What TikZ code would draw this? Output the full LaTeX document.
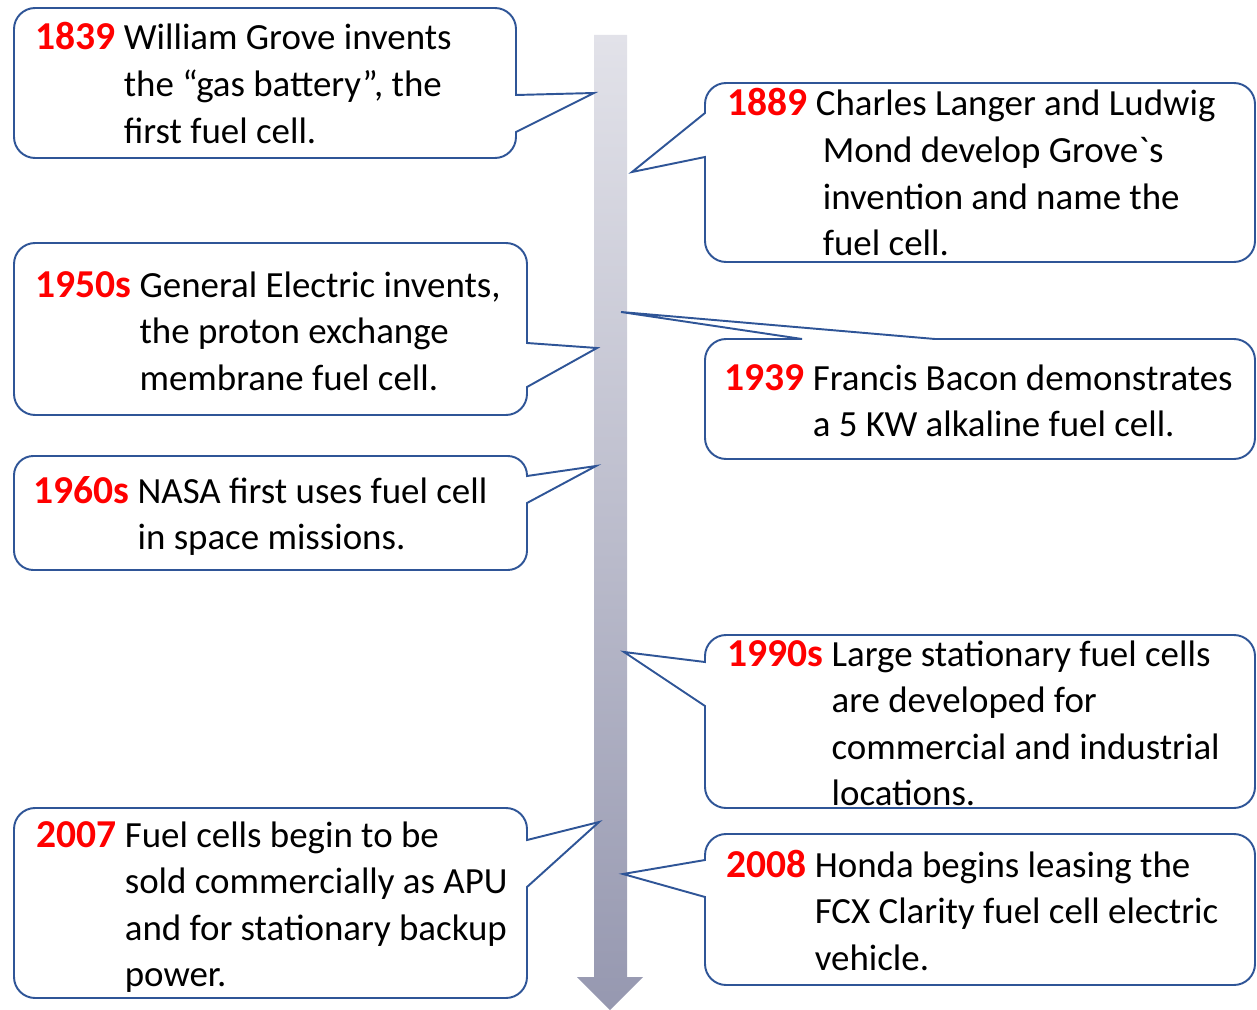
\documentclass[tikz,border=0pt]{standalone}
\usepackage{fontspec}
\setmainfont{Carlito}
\definecolor{calloutblue}{RGB}{47,85,151}
\definecolor{axistop}{RGB}{226,226,233}
\definecolor{axisbottom}{RGB}{150,152,176}
\newcommand{\evt}[2]{\begin{tabular}[t]{@{}l@{\ }l@{}}\textcolor{red}{\fontsize{22.5}{26.5}\selectfont\bfseries #1} & \begin{tabular}[t]{@{}l@{}}#2\end{tabular}\end{tabular}}
\tikzset{
  callout/.style={draw=calloutblue, line width=1.1pt, fill=white},
  evtext/.style={anchor=base west, inner sep=0pt, font=\fontsize{21}{26.5}\selectfont},
}
\begin{document}
\begin{tikzpicture}[x=0.02cm, y=-0.02cm]
      \useasboundingbox (0,0) rectangle (1257,1010);
      \shade[top color=axistop, bottom color=axisbottom]
        (594,35) -- (627,35) -- (627,977) -- (643,977) -- (610,1010) -- (577,977) -- (594,977) -- cycle;
      \draw[callout] (265,8) [rounded corners=12pt] -- (516,8) [sharp corners] -- (516,95) -- (594,93) -- (516,132)
        [rounded corners=12pt] -- (516,158) -- (14,158) -- (14,8) -- cycle;
      \draw[callout] (980,83) [rounded corners=12pt] -- (1255,83) -- (1255,262) -- (705,262) [sharp corners] -- (705,157)
        -- (632,172) -- (705,113) [rounded corners=12pt] -- (705,83) -- cycle;
      \draw[callout] (265,243) [rounded corners=12pt] -- (527,243) [sharp corners] -- (527,343) -- (597,348) -- (527,387)
        [rounded corners=12pt] -- (527,415) -- (14,415) -- (14,243) -- cycle;
      \draw[callout] (980,459) [rounded corners=12pt] -- (705,459) -- (705,339) [sharp corners] -- (802,339)
        -- (621,312) -- (935,339) [rounded corners=12pt] -- (1255,339) -- (1255,459) -- cycle;
      \draw[callout] (265,456) [rounded corners=11pt] -- (527,456) [sharp corners] -- (527,476) -- (596,466) -- (527,503)
        [rounded corners=11pt] -- (527,570) -- (14,570) -- (14,456) -- cycle;
      \draw[callout] (980,808) [rounded corners=12pt] -- (705,808) [sharp corners] -- (705,706) -- (624,652) -- (705,662)
        [rounded corners=12pt] -- (705,635) -- (1255,635) -- (1255,808) -- cycle;
      \draw[callout] (265,808) [rounded corners=12pt] -- (527,808) [sharp corners] -- (527,840) -- (599,822) -- (527,887)
        [rounded corners=12pt] -- (527,998) -- (14,998) -- (14,808) -- cycle;
      \draw[callout] (980,985) [rounded corners=12pt] -- (705,985) [sharp corners] -- (705,897) -- (623,874) -- (705,860)
        [rounded corners=12pt] -- (705,834) -- (1255,834) -- (1255,985) -- cycle;
      \node[evtext] (y1839) at (35,50)
        {\evt{1839}{William Grove invents\\the “gas battery”, the\\first fuel cell.}};
      \node[evtext] (y1889) at (727,116)
        {\evt{1889}{Charles Langer and Ludwig\\\hspace{4pt}Mond develop Grove\textasciigrave s\\\hspace{4pt}invention and name the\\\hspace{4pt}fuel cell.}};
      \node[evtext] (y1950) at (35,297)
        {\evt{1950s}{General Electric invents,\\the proton exchange\\membrane fuel cell.}};
      \node[evtext] (y1939) at (724,390)
        {\evt{1939}{Francis Bacon demonstrates\\a 5 KW alkaline fuel cell.}};
      \node[evtext] (y1960) at (33,503)
        {\evt{1960s}{NASA first uses fuel cell\\in space missions.}};
      \node[evtext] (y1990) at (727,666)
        {\evt{1990s}{Large stationary fuel cells\\are developed for\\commercial and industrial\\locations.}};
      \node[evtext] (y2007) at (36,847)
        {\evt{2007}{Fuel cells begin to be\\sold commercially as APU\\and for stationary backup\\power.}};
      \node[evtext] (y2008) at (726,877)
        {\evt{2008}{Honda begins leasing the\\FCX Clarity fuel cell electric\\vehicle.}};
    \end{tikzpicture}
\end{document}
